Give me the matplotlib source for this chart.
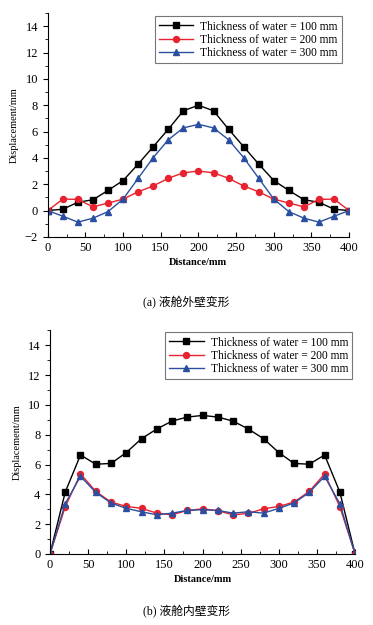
import matplotlib
matplotlib.use("Agg")
import matplotlib.pyplot as plt
from matplotlib.ticker import MultipleLocator

plt.rcParams['font.family'] = ['Liberation Serif', 'Noto Sans CJK SC']
plt.rcParams['mathtext.fontset'] = 'stix'

distance = list(range(0, 401, 20))

outer_100 = [0, 0.1, 0.63, 0.82, 1.53, 2.28, 3.53, 4.85, 6.18, 7.58, 8.0,
             7.58, 6.18, 4.85, 3.53, 2.28, 1.53, 0.82, 0.63, 0.1, 0]
outer_200 = [0, 0.87, 0.85, 0.28, 0.57, 0.87, 1.42, 1.87, 2.45, 2.87, 3.0,
             2.87, 2.45, 1.87, 1.42, 0.87, 0.57, 0.28, 0.85, 0.87, 0]
outer_300 = [0, -0.43, -0.88, -0.58, -0.08, 0.87, 2.45, 4.02, 5.38, 6.28, 6.55,
             6.28, 5.38, 4.02, 2.45, 0.87, -0.08, -0.58, -0.88, -0.43, 0]

inner_100 = [0, 4.15, 6.64, 6.02, 6.07, 6.8, 7.73, 8.38, 8.91, 9.18, 9.29,
             9.18, 8.91, 8.38, 7.73, 6.8, 6.07, 6.02, 6.64, 4.15, 0]
inner_200 = [0, 3.17, 5.37, 4.2, 3.48, 3.19, 3.06, 2.74, 2.63, 2.92, 3.03,
             2.9, 2.63, 2.72, 3.03, 3.19, 3.48, 4.2, 5.37, 3.17, 0]
inner_300 = [0, 3.37, 5.21, 4.13, 3.42, 3.06, 2.83, 2.63, 2.74, 2.92, 2.97,
             2.92, 2.74, 2.83, 2.74, 3.06, 3.42, 4.13, 5.21, 3.37, 0]

labels = ['Thickness of water = 100 mm', 'Thickness of water = 200 mm',
          'Thickness of water = 300 mm']
captions = ['(a) 液舱外壁变形', '(b) 液舱内壁变形']

fig = plt.figure(figsize=(3.73, 6.25), dpi=100)
ax1 = fig.add_axes([0.128, 0.621, 0.808, 0.358])
ax2 = fig.add_axes([0.134, 0.1136, 0.818, 0.358])

styles = [dict(color='black', marker='s', markersize=4.3),
          dict(color='#e8222e', marker='o', markersize=4.3),
          dict(color='#2a4fa0', marker='^', markersize=4.8)]

def draw(ax, series, ylim, leg_anchor):
    for s, st, lab in zip(series, styles, labels):
        ax.plot(distance, s, lw=1.0, label=lab, **st)
    ax.set_xlim(0, 400)
    ax.set_ylim(*ylim)
    ax.spines['top'].set_visible(False)
    ax.spines['right'].set_visible(False)
    ax.xaxis.set_major_locator(MultipleLocator(50))
    ax.xaxis.set_minor_locator(MultipleLocator(25))
    ax.yaxis.set_major_locator(MultipleLocator(2))
    ax.yaxis.set_minor_locator(MultipleLocator(1))
    ax.tick_params(axis='x', which='both', direction='in', labelsize=9)
    ax.tick_params(axis='x', which='major', length=3.5)
    ax.tick_params(axis='x', which='minor', length=2)
    ax.tick_params(axis='y', which='both', direction='out', labelsize=9)
    ax.tick_params(axis='y', which='major', length=3.5)
    ax.tick_params(axis='y', which='minor', length=2)
    ax.set_yticks(ax.get_yticks())
    ax.set_yticklabels([('\u2212%d' % -v) if v < 0 else '%d' % v for v in ax.get_yticks()])
    ax.set_ylim(*ylim)
    ax.set_xlabel('Distance/mm', fontsize=7.5, fontweight='bold', labelpad=3)
    ax.set_ylabel('Displacement/mm', fontsize=7.5, labelpad=4)
    leg = ax.legend(loc='upper right', bbox_to_anchor=leg_anchor, fontsize=8.3,
                    frameon=True, fancybox=False, edgecolor='#555555',
                    handlelength=3, borderpad=0.35, labelspacing=0.12,
                    handletextpad=0.6, borderaxespad=0)
    leg.get_frame().set_linewidth(0.8)

draw(ax1, [outer_100, outer_200, outer_300], (-2, 15), (0.976, 0.985))
draw(ax2, [inner_100, inner_200, inner_300], (0, 15), (0.99, 0.99))

fig.text(0.5, 0.515, captions[0], ha='center', va='center', fontsize=8.5,
         family=['Liberation Serif', 'Noto Sans CJK SC'])
fig.text(0.5, 0.021, captions[1], ha='center', va='center', fontsize=8.5,
         family=['Liberation Serif', 'Noto Sans CJK SC'])

fig.savefig('out.png', dpi=100)
